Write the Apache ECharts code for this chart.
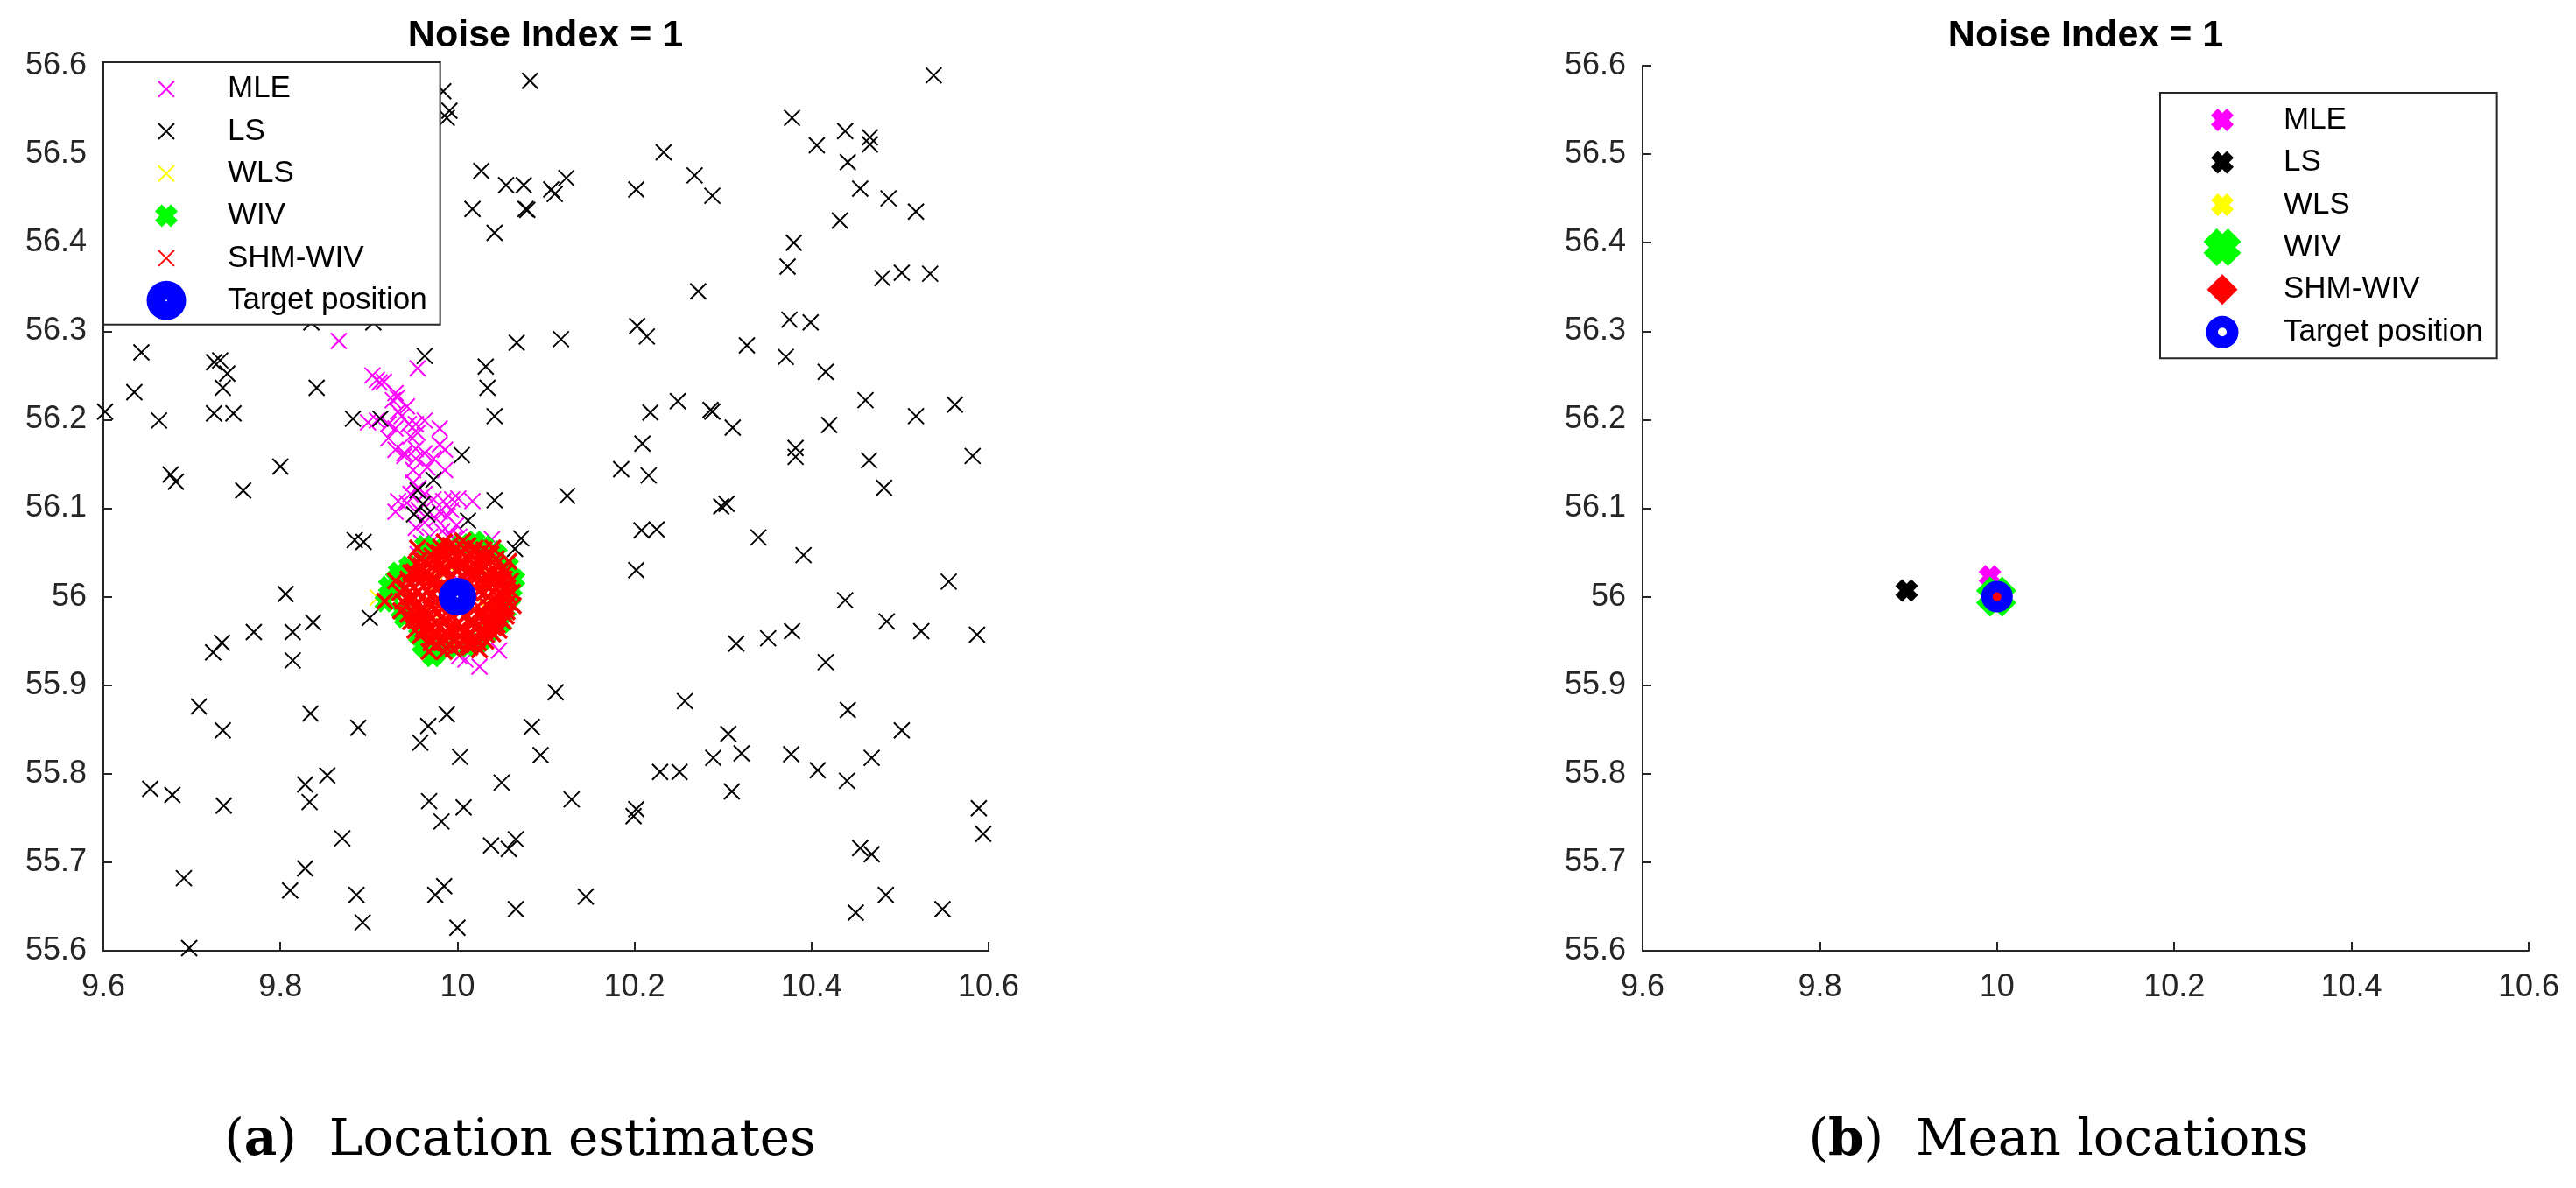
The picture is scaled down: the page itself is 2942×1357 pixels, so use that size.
<!DOCTYPE html>
<html><head><meta charset="utf-8">
<script src="https://cdn.jsdelivr.net/npm/echarts@6/dist/echarts.min.js"></script>
<style>html,body{margin:0;padding:0;background:#fff;}#c{width:2942px;height:1357px;}</style>
</head><body><div id="c"></div>
<script>
// ---------- texts ----------
const plotTitle = 'Noise Index = 1';
const captionLetters = ['a', 'b'];
const captionTexts = ['Location estimates', 'Mean locations'];
const legendNames = ['MLE', 'LS', 'WLS', 'WIV', 'SHM-WIV', 'Target position'];
// ---------- axes ----------
const xMin = 9.6, xMax = 10.6, xStep = 0.2;
const yMin = 55.6, yMax = 56.6, yStep = 0.1;
// ---------- (a) location estimates ----------
const mlePoints = [
 [9.866,56.289],[9.955,56.258],[9.904,56.250],[9.909,56.245],[9.912,56.242],[9.917,56.243],[9.930,56.230],[9.932,56.225],
 [9.927,56.222],[9.943,56.215],[9.933,56.209],[9.937,56.204],[9.945,56.195],[9.899,56.197],[9.909,56.199],[9.922,56.195],
 [9.930,56.190],[9.953,56.195],[9.963,56.199],[9.980,56.190],[9.922,56.179],[9.947,56.181],[9.955,56.185],[9.930,56.166],
 [9.940,56.162],[9.953,56.167],[9.963,56.162],[9.980,56.172],[9.986,56.166],[9.973,56.156],[9.953,56.156],[9.940,56.159],
 [9.986,56.143],[9.950,56.143],[9.966,56.146],[9.950,56.129],[9.956,56.123],[9.947,56.116],[9.963,56.116],[9.933,56.108],
 [9.943,56.106],[9.973,56.110],[9.984,56.108],[9.994,56.110],[10.001,56.111],[10.017,56.108],[9.930,56.096],[9.956,56.098],
 [9.980,56.096],[9.993,56.098],[9.953,56.078],[9.963,56.084],[9.976,56.088],[9.989,56.091],[9.999,56.081],[9.992,56.071],
 [9.983,56.074],[9.969,56.068],[9.959,56.061],[10.002,56.068],[9.996,56.065],[10.039,56.065],[9.955,56.048],[9.950,56.035],
 [10.002,55.933],[10.025,55.921],[10.047,55.939],[10.009,55.929],[10.010,56.020],[9.990,56.030],[10.020,56.000],[9.980,55.990],
 [10.000,55.970],[10.030,55.980]
];
const lsPoints = [
 [10.082,56.583],[9.984,56.571],[9.988,56.541],[9.991,56.549],[10.027,56.481],[10.055,56.465],[10.075,56.465],[10.017,56.438],
 [10.077,56.438],[10.079,56.437],[10.042,56.411],[9.835,56.310],[9.905,56.310],
 [10.067,56.287],[9.643,56.276],[9.963,56.272],[9.725,56.265],[9.732,56.267],[9.740,56.252],[10.032,56.260],[9.635,56.231],
 [9.735,56.236],[9.841,56.236],[10.034,56.236],[9.602,56.209],[9.663,56.199],[9.725,56.207],[9.747,56.207],[9.882,56.201],
 [9.913,56.201],[10.042,56.204],[10.005,56.160],[9.676,56.138],[9.682,56.130],[9.800,56.147],[9.758,56.120],[9.973,56.132],
 [9.955,56.120],[9.961,56.105],[10.042,56.109],
 [10.538,56.589],[10.378,56.541],[10.438,56.526],[10.466,56.519],[10.466,56.511],[10.406,56.510],[10.441,56.491],[10.233,56.502],
 [10.123,56.473],[10.106,56.460],[10.110,56.455],[10.202,56.460],[10.268,56.476],[10.288,56.453],[10.455,56.461],[10.487,56.450],
 [10.518,56.435],[10.432,56.425],[10.380,56.400],[10.373,56.373],[10.480,56.360],[10.502,56.366],[10.534,56.365],[10.272,56.345],
 [10.375,56.313],[10.399,56.310],[10.203,56.306],[10.214,56.294],[10.117,56.291],[10.327,56.284],[10.371,56.271],[10.416,56.254],
 [10.249,56.221],[10.218,56.208],[10.286,56.211],[10.288,56.209],[10.311,56.191],[10.461,56.222],[10.562,56.217],[10.518,56.204],
 [10.420,56.194],[10.209,56.173],[10.382,56.168],[10.382,56.158],[10.465,56.154],[10.582,56.159],[10.185,56.144],[10.216,56.137],
 [10.482,56.123],[10.124,56.114],[10.304,56.105],[10.298,56.102],
 [9.951,56.093],[9.966,56.093],[10.012,56.086],[9.884,56.064],[9.894,56.062],[10.072,56.066],[10.065,56.054],[9.806,56.003],
 [9.901,55.976],[9.837,55.971],[9.770,55.960],[9.814,55.960],[9.734,55.948],[9.724,55.937],[9.814,55.928],[9.708,55.876],
 [9.834,55.868],[9.735,55.849],[9.888,55.852],[9.988,55.867],[9.967,55.854],[9.958,55.835],[10.003,55.819],[10.084,55.853],
 [10.094,55.821],[9.853,55.798],[9.828,55.788],[9.653,55.783],[9.678,55.776],[9.833,55.768],[9.736,55.764],[10.050,55.790],
 [9.968,55.769],[10.007,55.762],[9.982,55.746],[9.870,55.727],[10.038,55.719],[10.058,55.715],[10.066,55.726],[9.828,55.693],
 [9.691,55.682],[9.811,55.668],[9.886,55.663],[9.985,55.673],[9.975,55.663],[10.066,55.647],[9.893,55.632],[10.000,55.626],
 [9.697,55.603],
 [10.208,56.075],[10.225,56.076],[10.340,56.067],[10.202,56.030],[10.391,56.047],[10.555,56.017],[10.438,55.996],[10.485,55.972],
 [10.524,55.961],[10.587,55.957],[10.315,55.947],[10.351,55.953],[10.378,55.961],[10.416,55.926],[10.111,55.892],[10.257,55.882],
 [10.441,55.872],[10.502,55.849],[10.306,55.845],[10.289,55.818],[10.321,55.823],[10.377,55.822],[10.468,55.818],[10.229,55.802],
 [10.251,55.802],[10.407,55.804],[10.440,55.792],[10.310,55.780],[10.129,55.771],[10.202,55.760],[10.199,55.752],[10.589,55.761],
 [10.594,55.732],[10.455,55.716],[10.468,55.709],[10.145,55.661],[10.484,55.663],[10.450,55.643],[10.548,55.647]
];
const wlsPoints = [
 [10.020,56.010],[9.980,56.020],[10.010,55.980],[9.970,55.990],[10.030,55.990],[9.990,56.035],[10.000,55.960],[10.035,56.025],
 [9.965,56.015],[9.985,55.970],[10.040,55.975],[9.960,55.985],[10.015,56.040],[9.910,55.999]
];
const wivPoints = [
 [9.930,56.020],[9.918,55.994],[9.936,55.984],[9.971,55.939],[9.975,55.935],[10.020,56.063],[10.058,56.035],[10.062,56.009],
 [10.060,55.999],[10.035,55.959],[10.012,55.943],[9.968,56.051],[9.940,55.976],[9.956,55.956],[9.985,56.055],[10.005,56.060],
 [10.045,56.048],[10.050,55.970],[10.065,56.020],[9.925,56.005],[9.945,56.035],[9.960,55.945],[10.025,55.948],[10.040,56.052],
 [9.990,55.942],[9.933,56.028],[9.963,56.058],[9.965,55.940],[9.972,55.932],[10.055,55.985],[9.922,56.012],[10.030,56.058]
];
const shmPoints = [
 [10.050,56.003],[10.048,56.015],[10.045,56.024],[10.040,56.032],[10.033,56.039],[10.025,56.044],[10.016,56.048],[10.005,56.050],
 [9.994,56.049],[9.984,56.047],[9.975,56.043],[9.967,56.037],[9.960,56.030],[9.955,56.021],[9.951,56.011],[9.950,56.000],
 [9.951,55.988],[9.955,55.978],[9.960,55.969],[9.967,55.962],[9.976,55.956],[9.986,55.952],[9.997,55.950],[10.008,55.951],
 [10.018,55.953],[10.027,55.958],[10.035,55.964],[10.042,55.972],[10.046,55.981],[10.049,55.991],
 [10.040,56.006],[10.036,56.019],[10.028,56.030],[10.017,56.037],[10.004,56.040],[9.991,56.039],[9.979,56.033],[9.969,56.024],
 [9.962,56.012],[9.960,55.999],[9.963,55.986],[9.970,55.975],[9.981,55.966],[9.994,55.961],[10.008,55.961],[10.021,55.966],
 [10.031,55.974],[10.038,55.986],[10.039,55.995],
 [10.030,56.004],[10.025,56.018],[10.013,56.027],[9.998,56.030],[9.984,56.026],[9.973,56.016],[9.970,56.001],[9.975,55.986],
 [9.986,55.974],[10.001,55.970],[10.016,55.974],[10.027,55.985],
 [10.057,56.010],[10.054,56.028],[10.044,56.043],[10.030,56.053],[10.012,56.058],[9.992,56.058],[9.974,56.052],[9.958,56.042],
 [9.947,56.027],[9.942,56.010],[9.943,55.990],[9.947,55.972],[9.958,55.956],[9.975,55.945],[9.995,55.941],[10.014,55.943],
 [10.032,55.950],[10.047,55.962],[10.055,55.978],[10.058,55.994],
 [9.930,56.018],[9.918,55.995],[9.936,55.984],[9.968,55.938],[10.012,55.945],[10.058,56.040],[10.062,56.005],[9.955,56.055],
 [10.040,56.055],
 [10.015,56.005],[9.990,56.010],[10.005,55.985],[9.988,55.992],[10.010,56.015],
 [10.044,56.010],[10.037,56.027],[10.022,56.041],[10.000,56.045],[9.978,56.039],[9.962,56.025],[9.955,56.005],[9.958,55.983],
 [9.969,55.966],[9.988,55.956],[10.011,55.955],[10.030,55.963],[10.042,55.978],[10.046,55.994],
 [10.053,56.020],[10.038,56.048],[10.020,56.055],[9.999,56.055],[9.979,56.050],[9.963,56.040],[9.951,56.028],[9.946,55.999],
 [9.950,55.980],[9.963,55.960],[9.982,55.948],[10.004,55.946],[10.024,55.948],[10.040,55.958],[10.052,55.972],[10.055,55.989],
 [10.052,56.008],[10.049,56.021],[10.043,56.036],[10.031,56.046],[10.019,56.052],[10.008,56.054],[9.996,56.053],[9.985,56.052],
 [9.971,56.046],[9.959,56.035],[9.952,56.024],[9.947,56.015],[9.947,55.994],[9.949,55.984],[9.953,55.973],[9.961,55.963],
 [9.970,55.953],[9.980,55.949],[9.991,55.946],[10.001,55.945],[10.013,55.949],[10.022,55.952],[10.033,55.957],[10.041,55.965],
 [10.048,55.976],[10.052,55.986],[10.053,55.998],
 [10.034,56.012],[10.031,56.024],[10.022,56.034],[10.009,56.036],[9.995,56.036],[9.982,56.030],[9.975,56.021],[9.966,56.007],
 [9.966,55.993],[9.968,55.980],[9.977,55.970],[9.990,55.964],[10.003,55.964],[10.016,55.968],[10.026,55.977],[10.034,55.990],
 [10.024,56.006],[10.019,56.019],[10.006,56.024],[9.993,56.022],[9.982,56.013],[9.978,55.998],[9.982,55.986],[9.995,55.978],
 [10.008,55.978],[10.019,55.985],
 [9.935,56.005],[9.938,55.995],[10.060,56.018],[10.006,56.063],[9.985,56.062],[9.985,55.938],[10.025,55.940],[10.063,55.990],
 [10.045,56.000],[10.043,56.017],[10.039,56.026],[10.029,56.036],[10.012,56.044],[9.988,56.044],[9.972,56.034],[9.958,56.017],
 [9.955,55.992],[9.962,55.975],[9.974,55.961],[9.992,55.955],[10.016,55.958],[10.033,55.968],[10.044,55.985],
 [10.035,56.000],[10.031,56.016],[10.020,56.028],[10.004,56.033],[9.988,56.031],[9.975,56.010],[9.972,55.990],[9.981,55.976],
 [9.998,55.967],[10.014,55.970],[10.028,55.980],
 [10.052,56.032],[10.027,56.050],[9.981,56.056],[9.953,56.037],[9.944,56.020],[9.944,55.980],[9.952,55.962],[9.970,55.948],
 [10.019,55.946],[10.045,55.968],[10.056,55.983],[10.056,56.003]
];
const targetPoint = [[10.0, 56.0]];
// ---------- (b) mean locations ----------
const meanMLE = [[9.992, 56.023]];
const meanLS = [[9.898, 56.007]];
const meanWLS = [[9.998, 56.001]];
const meanWIV = [[9.999, 56.000]];
const meanSHM = [[10.000, 56.000]];

// ---------- symbols ----------
const XS = 'path://M0,0L10,10M10,0L0,10';
const FATX = 'path://M0,3L3,0L5,2L7,0L10,3L8,5L10,7L7,10L5,8L3,10L0,7L2,5Z';
const FATD = 'path://M0,3.5L3.5,0L5,1.5L6.5,0L10,3.5L8.5,5L10,6.5L6.5,10L5,8.5L3.5,10L0,6.5L1.5,5Z';
const DIAM = 'path://M5,0L10,5L5,10L0,5Z';
// legend icons: fill-only shapes in 45x45 boxes
const L_X = 'path://M0,0M45,45M12.8,14.2L14.2,12.8L32.2,30.8L30.8,32.2ZM30.8,12.8L32.2,14.2L14.2,32.2L12.8,30.8Z';
const L_FATX = 'path://M0,0M45,45M9.5,17.3L17.3,9.5L22.5,14.7L27.7,9.5L35.5,17.3L30.3,22.5L35.5,27.7L27.7,35.5L22.5,30.3L17.3,35.5L9.5,27.7L14.7,22.5Z';
const L_FATD = 'path://M0,0M45,45M1,16.05L16.05,1L22.5,7.45L28.95,1L44,16.05L37.55,22.5L44,28.95L28.95,44L22.5,37.55L16.05,44L1,28.95L7.45,22.5Z';
const L_DIAM = 'path://M0,0M45,45M22.5,5L40,22.5L22.5,40L5,22.5Z';
const L_DOT = 'path://M0,22.5A22.5,22.5,0,1,1,45,22.5A22.5,22.5,0,1,1,0,22.5ZM21.5,22.5A1,1,0,1,0,23.5,22.5A1,1,0,1,0,21.5,22.5Z';
const L_RING = 'path://M0,0M45,45M4,22.5A18.5,18.5,0,1,1,41,22.5A18.5,18.5,0,1,1,4,22.5ZM17.5,22.5A5,5,0,1,0,27.5,22.5A5,5,0,1,0,17.5,22.5Z';

const C = {mle:'#ff00ff', ls:'#000000', wls:'#ffff00', wiv:'#00ff00', shm:'#ff0000', tgt:'#0000ff'};
const NONE = 'rgba(0,0,0,0)';
const AX = '#262626';

function xSeries(name, data, color, gi, lw) {
  return {type:'scatter', name, data, xAxisIndex:gi, yAxisIndex:gi, symbol:XS, symbolSize:18,
    itemStyle:{color:NONE, borderColor:color, borderWidth:lw || 2, opacity:1}, silent:true, animation:false};
}
function fillSeries(name, data, color, gi, sym, size) {
  return {type:'scatter', name, data, xAxisIndex:gi, yAxisIndex:gi, symbol:sym, symbolSize:size,
    itemStyle:{color:color, borderWidth:0, opacity:1}, silent:true, animation:false};
}
function ringSeries(name, data, gi, size, bw) {
  return {type:'scatter', name, data, xAxisIndex:gi, yAxisIndex:gi, symbol:'circle', symbolSize:size,
    itemStyle:{color:NONE, borderColor:C.tgt, borderWidth:bw, opacity:1}, silent:true, animation:false};
}
function xAxisDef(gi) {
  return {type:'value', gridIndex:gi, min:xMin, max:xMax, interval:xStep,
    axisLine:{show:true, onZero:false, lineStyle:{color:AX, width:2}},
    axisTick:{show:true, inside:true, length:10, lineStyle:{color:AX, width:2}},
    axisLabel:{show:true, margin:24, color:AX, fontSize:36, fontFamily:'Liberation Sans'},
    splitLine:{show:false}};
}
function yAxisDef(gi) {
  return {type:'value', gridIndex:gi, min:yMin, max:yMax, interval:yStep,
    axisLine:{show:true, onZero:false, lineStyle:{color:AX, width:2}},
    axisTick:{show:true, inside:true, length:10, lineStyle:{color:AX, width:2}},
    axisLabel:{show:true, margin:19, color:AX, fontSize:36, fontFamily:'Liberation Sans'},
    splitLine:{show:false}};
}
const legendText = {fontFamily:'Liberation Sans', fontSize:35, color:'#000'};
function legItem(name, icon, color) { return {name, icon, itemStyle:{color:color, borderWidth:0, opacity:1}}; }
const capRich = {
  p:{fontFamily:'DejaVu Serif', fontSize:58, fontWeight:'normal', color:'#000'},
  b:{fontFamily:'DejaVu Serif', fontSize:58, fontWeight:'bold', color:'#000'}
};
function captionTitle(i, cx) {
  return {text:'{p|(}{b|' + captionLetters[i] + '}{p|)  ' + captionTexts[i] + '}', left:cx, top:1275, textAlign:'center', padding:0,
    textStyle:{fontFamily:'DejaVu Serif', fontSize:58, fontWeight:'normal', color:'#000', rich:capRich}};
}
function plotTitleDef(cx) {
  return {text:plotTitle, left:cx, top:20, textAlign:'center', padding:0,
    textStyle:{fontFamily:'Liberation Sans', fontWeight:'bold', fontSize:43, color:'#000'}};
}

const option = {
  backgroundColor:'#ffffff',
  animation:false,
  title:[plotTitleDef(623), plotTitleDef(2382), captionTitle(0, 594), captionTitle(1, 2351)],
  grid:[
    {left:118, top:75, width:1011, height:1011, containLabel:false},
    {left:1876, top:75, width:1012, height:1011, containLabel:false}
  ],
  xAxis:[xAxisDef(0), xAxisDef(1)],
  yAxis:[yAxisDef(0), yAxisDef(1)],
  legend:[
    {orient:'vertical', left:118, top:71, padding:[8.2,15,5,49.5], itemWidth:130, itemHeight:45, itemGap:3.3,
     backgroundColor:'#ffffff', borderColor:AX, borderWidth:2, selectedMode:false, textStyle:legendText, z:10,
     data:[
       legItem(legendNames[0], L_X, C.mle),
       legItem(legendNames[1], L_X, C.ls),
       legItem(legendNames[2], L_X, C.wls),
       legItem(legendNames[3], L_FATX, C.wiv),
       legItem(legendNames[4], L_X, C.shm),
       legItem(legendNames[5], L_DOT, C.tgt)
     ]},
    {orient:'vertical', left:2467, top:106, padding:[8.5,16,7.5,48.5], itemWidth:130, itemHeight:45, itemGap:3.46,
     backgroundColor:'#ffffff', borderColor:AX, borderWidth:2, selectedMode:false, textStyle:legendText, z:10,
     data:[
       legItem(legendNames[0], L_FATX, C.mle),
       legItem(legendNames[1], L_FATX, C.ls),
       legItem(legendNames[2], L_FATX, C.wls),
       legItem(legendNames[3], L_FATD, C.wiv),
       legItem(legendNames[4], L_DIAM, C.shm),
       legItem(legendNames[5], L_RING, C.tgt)
     ]}
  ],
  series:[
    xSeries(legendNames[0], mlePoints, C.mle, 0),
    xSeries(legendNames[1], lsPoints, C.ls, 0),
    xSeries(legendNames[2], wlsPoints, C.wls, 0),
    fillSeries(legendNames[3], wivPoints, C.wiv, 0, FATX, 24),
    xSeries(legendNames[4], shmPoints, C.shm, 0, 3.5),
    ringSeries(legendNames[5], targetPoint, 0, 22.5, 20.5),
    fillSeries(legendNames[0], meanMLE, C.mle, 1, FATX, 26),
    fillSeries(legendNames[1], meanLS, C.ls, 1, FATX, 26),
    fillSeries(legendNames[2], meanWLS, C.wls, 1, FATX, 26),
    fillSeries(legendNames[3], meanWIV, C.wiv, 1, FATD, 46),
    fillSeries(legendNames[4], meanSHM, C.shm, 1, DIAM, 35),
    ringSeries(legendNames[5], targetPoint, 1, 23, 13)
  ]
};
const chart = echarts.init(document.getElementById('c'), null, {renderer:'canvas'});
chart.setOption(option);
</script></body></html>
